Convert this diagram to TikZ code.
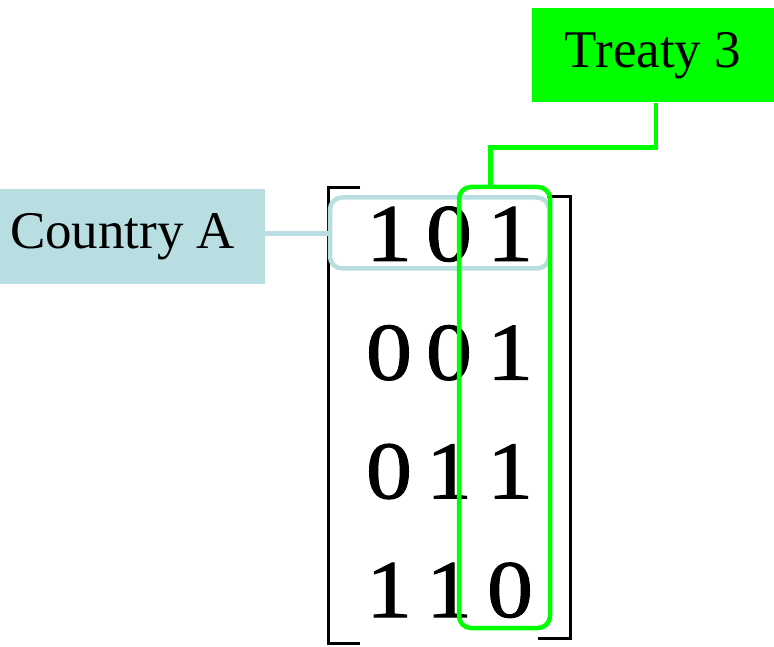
\documentclass[tikz,border=0pt]{standalone}
\usepackage{fontspec}
\setmainfont{Liberation Serif}
\newfontfamily\entryfont[FakeBold=1.2]{Liberation Serif}
\newcommand{\wide}[1]{\scalebox{1.12}[1]{#1}}

\begin{document}
\begin{tikzpicture}[x=1pt,y=-1pt]
	\definecolor{countrycolor}{RGB}{184,222,226}
	\colorlet{treatycolor}{green}
	\tikzset{labelbox/.style={inner sep=0pt,minimum height=94pt,font=\fontsize{53}{60}\selectfont},
	  entry/.style={anchor=base,inner sep=0pt,font=\entryfont\fontsize{82}{90}\selectfont},
	  pickbox/.style={draw,line width=4.5pt,rounded corners=12pt}}

	\pgfmathsetmacro{\rowgap}{118.7}

	\useasboundingbox (0,0) rectangle (774,647);

	% brackets of the matrix
	\draw[line width=3pt] (360,188) -- (328,188) -- (328,643) -- (360,643);
	\draw[line width=3pt] (547,197) -- (570,197) -- (570,638) -- (538,638);

	\foreach \a/\b/\c [count=\r] in {1/0/1,0/0/1,0/1/1,1/1/0} {
	  \node[entry] (d\r1) at (389,261+\rowgap*\r-\rowgap) {\wide{\a}};
	  \node[entry] (d\r2) at (449,261+\rowgap*\r-\rowgap) {\wide{\b}};
	  \node[entry] (d\r3) at (510,261+\rowgap*\r-\rowgap) {\wide{\c}};
	}

	\node[labelbox,fill=countrycolor,text width=245pt,inner xsep=10pt,align=flush left]
	  (country) at (132.5,236.5) {Country A};
	\node[pickbox,draw=countrycolor,minimum width=219pt,minimum height=71pt]
	  (rowA) at (439.5,233) {};
	\draw[countrycolor,line width=4.5pt] ([yshift=3pt]country.east)
	  -- ([yshift=3pt]country.east -| rowA.west);

	\node[labelbox,fill=treatycolor,minimum width=242pt] (treaty) at (653,55.5) {Treaty 3};
	\node[pickbox,draw=treatycolor,minimum width=91pt,minimum height=441pt]
	  (col3) at (504.5,407.5) {};
	\draw[treatycolor,line width=4.5pt] ([xshift=3pt]treaty.south) -- ++(0,45)
	  -| ([xshift=-14pt]col3.north);
\end{tikzpicture}
\end{document}
